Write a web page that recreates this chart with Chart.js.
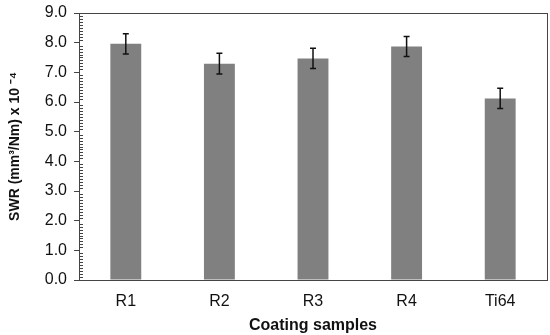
<!DOCTYPE html>
<html>
<head>
<meta charset="utf-8">
<script src="https://cdn.jsdelivr.net/npm/chart.js@4.4.0/dist/chart.umd.min.js"></script>
<style>
  html, body { margin: 0; padding: 0; background: #fff; }
  #wrap { width: 550px; height: 335px; }
</style>
</head>
<body>
<div id="wrap"><canvas id="myChart"></canvas></div>
<script>
// data
var samples = ['R1', 'R2', 'R3', 'R4', 'Ti64'];
var swr = [7.96, 7.29, 7.47, 7.87, 6.12];
var swrErr = [0.34, 0.35, 0.34, 0.34, 0.34];
var yTicks = [0, 1, 2, 3, 4, 5, 6, 7, 8, 9];

// error bars + minor ticks + frame
var extras = {
  id: 'extras',
  afterDatasetsDraw: function(chart) {
    var ctx = chart.ctx;
    var y = chart.scales.y;
    var area = chart.chartArea;
    var meta = chart.getDatasetMeta(0);
    ctx.save();
    ctx.strokeStyle = '#111';
    ctx.lineWidth = 1.5;
    meta.data.forEach(function(bar, i) {
      var top = y.getPixelForValue(swr[i] + swrErr[i]);
      var bot = y.getPixelForValue(swr[i] - swrErr[i]);
      ctx.beginPath();
      ctx.moveTo(bar.x, top); ctx.lineTo(bar.x, bot);
      ctx.moveTo(bar.x - 3, top); ctx.lineTo(bar.x + 3, top);
      ctx.moveTo(bar.x - 3, bot); ctx.lineTo(bar.x + 3, bot);
      ctx.stroke();
    });
    // minor ticks every 0.1 inside the axis
    ctx.strokeStyle = '#444';
    ctx.lineWidth = 1;
    ctx.beginPath();
    for (var k = 1; k < 90; k++) {
      if (k % 10 === 0) continue;
      var py = Math.round(y.getPixelForValue(k / 10)) + 0.5;
      ctx.moveTo(area.left, py); ctx.lineTo(area.left + 4, py);
    }
    ctx.stroke();
    // frame
    ctx.strokeStyle = '#444';
    ctx.strokeRect(Math.round(area.left) + 0.5, Math.round(area.top) + 0.5,
      Math.round(area.right - area.left), Math.round(area.bottom - area.top));
    ctx.restore();
  }
};

var ctx = document.getElementById('myChart');
var barGraph = new Chart(ctx, {
  type: 'bar',
  data: {
    labels: samples,
    datasets: [{
      data: swr,
      backgroundColor: '#808080',
      borderWidth: 0,
      barPercentage: 0.33,
      categoryPercentage: 1
    }]
  },
  options: {
    responsive: true,
    maintainAspectRatio: false,
    animation: false,
    layout: { padding: { top: 13, right: 3, left: 0, bottom: 0 } },
    plugins: { legend: { display: false }, tooltip: { enabled: false } },
    scales: {
      x: {
        grid: { display: false },
        border: { display: false },
        ticks: { color: '#111', padding: 4, font: { family: 'Liberation Sans', size: 16 } },
        title: {
          display: true, text: 'Coating samples', color: '#111',
          font: { family: 'Liberation Sans', size: 16, weight: 'bold' },
          padding: { top: 2, bottom: 0 }
        },
        afterFit: function(s) { s.height = 55; }
      },
      y: {
        min: 0, max: 9,
        afterBuildTicks: function(s) { s.ticks = yTicks.map(function(v) { return { value: v }; }); },
        grid: { drawOnChartArea: false, tickLength: 5, color: '#444' },
        border: { display: false },
        ticks: {
          color: '#111', padding: 7,
          font: { family: 'Liberation Sans', size: 16 },
          callback: function(v) { return Number(v).toFixed(1); }
        },
        title: {
          display: true, text: 'SWR (mm³/Nm) x 10 ⁻⁴', color: '#111',
          font: { family: 'Liberation Sans', size: 14, weight: 'bold' },
          padding: { top: 7, bottom: 0 }
        },
        afterFit: function(s) { s.width = 79; s.paddingTop = 0; s.paddingBottom = 0; }
      }
    }
  },
  plugins: [extras]
});
</script>
</body>
</html>
